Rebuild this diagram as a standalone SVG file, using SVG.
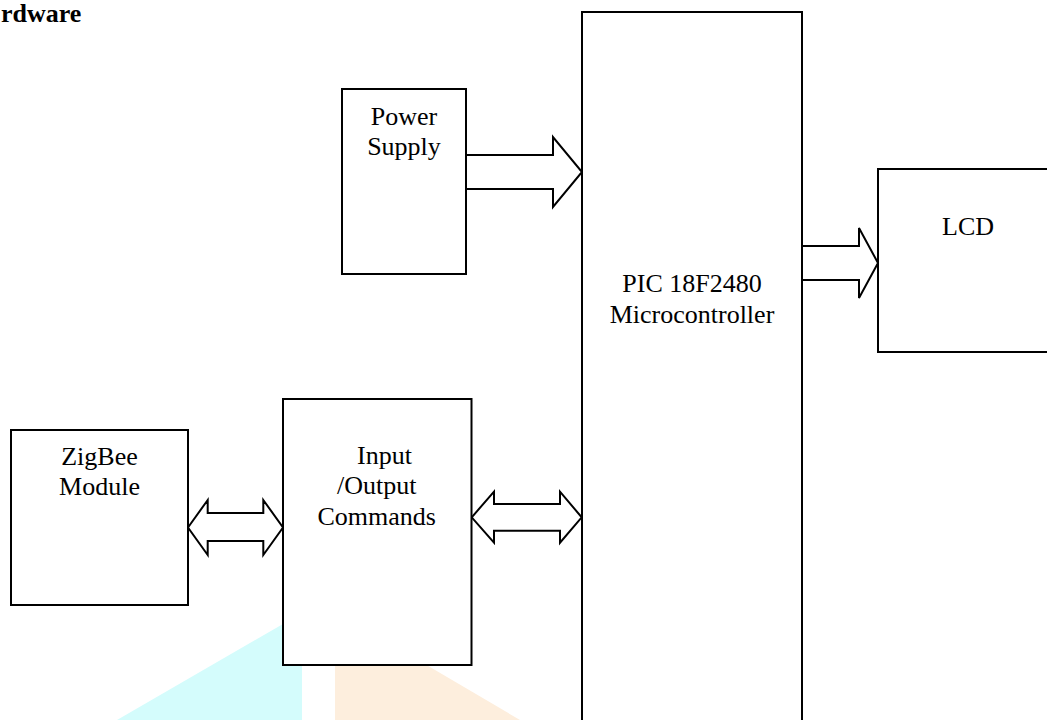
<svg xmlns="http://www.w3.org/2000/svg" width="1047" height="720" viewBox="0 0 1047 720">
<style>
.box{fill:#fff;stroke:#000;stroke-width:2}
.arr{fill:#fff;stroke:#000;stroke-width:2;stroke-linejoin:miter}
.t{font-family:"Liberation Serif","Times New Roman",serif;font-size:26px;fill:#000;text-anchor:middle}
.h{font-family:"Liberation Serif","Times New Roman",serif;font-size:26px;font-weight:bold;fill:#000}
</style>
<rect width="1047" height="720" fill="#fff"/>
<g id="watermark">
<polygon points="117,720 302,613 302,720" fill="#d4fcfc"/>
<polygon points="335,640 384,640 520,720 335,720" fill="#fdeedd"/>
</g>
<text class="h" x="1" y="22">rdware</text>
<g id="connectors">
<polygon class="arr" points="466,155 553,155 553,137 582,172 553,207 553,189 466,189"/>
<polygon class="arr" points="802,246 859,246 859,228 878,263 859,298 859,280 802,280"/>
<polygon class="arr" points="188,527.5 207.7,500 207.7,513 263.3,513 263.3,500 283,527.5 263.3,555 263.3,541 207.7,541 207.7,555"/>
<polygon class="arr" points="471.7,517.3 494,491.7 494,504 560,504 560,491.7 581.7,517.3 560,542.7 560,530.7 494,530.7 494,542.7"/>
</g>
<g id="power">
<rect class="box" x="342" y="89" width="124" height="185"/>
<text class="t" x="404" y="125">Power</text>
<text class="t" x="404" y="155">Supply</text>
</g>
<g id="pic">
<rect class="box" x="582" y="12" width="220" height="730"/>
<text class="t" x="692" y="292">PIC 18F2480</text>
<text class="t" x="692" y="323">Microcontroller</text>
</g>
<g id="lcd">
<rect class="box" x="878" y="169" width="180" height="183"/>
<text class="t" x="968" y="235">LCD</text>
</g>
<g id="zigbee">
<rect class="box" x="11" y="430" width="177" height="175"/>
<text class="t" x="99.5" y="465">ZigBee</text>
<text class="t" x="99.5" y="495">Module</text>
</g>
<g id="io">
<rect class="box" x="283" y="399" width="188.5" height="266"/>
<text class="t" x="384.5" y="464">Input</text>
<text class="t" x="376.7" y="494">/Output</text>
<text class="t" x="376.7" y="525">Commands</text>
</g>
</svg>
